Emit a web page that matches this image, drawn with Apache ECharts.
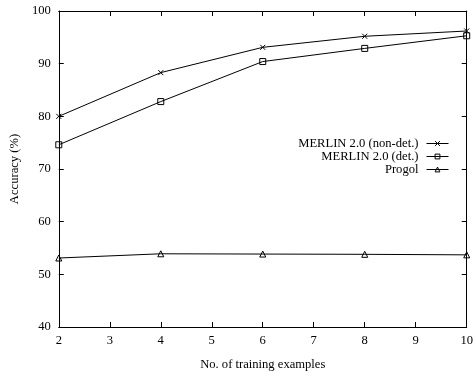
<!DOCTYPE html>
<html><head><meta charset="utf-8">
<script src="https://cdn.jsdelivr.net/npm/echarts@6/dist/echarts.min.js"></script>
<style>html,body{margin:0;padding:0;background:#fff}#c{width:476px;height:376px}</style>
</head><body><div id="c"></div>
<script>
const xValues = [2, 4, 6, 8, 10];
const nonDet = [80.0, 88.3, 93.1, 95.2, 96.2];
const det = [74.6, 82.8, 90.4, 92.9, 95.3];
const progol = [53.1, 53.9, 53.85, 53.8, 53.7];
const seriesNames = ['MERLIN 2.0 (non-det.)', 'MERLIN 2.0 (det.)', 'Progol'];

const font = 'Liberation Serif';
const fs = 12.6;
const pair = arr => xValues.map((x, i) => [x, arr[i]]);
const crossPath = 'path://M0,0L10,10M10,0L0,10';
function mk(name, data, symbol, size) {
  return {
    name, type: 'line', data: pair(data), symbol, symbolSize: size,
    showAllSymbol: true,
    lineStyle: { color: '#000', width: 1 },
    itemStyle: { color: 'rgba(0,0,0,0)', borderColor: '#000', borderWidth: 1 },
    emphasis: { disabled: true }, animation: false
  };
}
const chart = echarts.init(document.getElementById('c'), null, { renderer: 'canvas' });
const tickStyle = { inside: true, length: 5, lineStyle: { color: '#000', width: 1 } };
const lineStyle = { show: true, lineStyle: { color: '#000', width: 1 } };
chart.setOption({
  animation: false,
  textStyle: { fontFamily: font },
  grid: { left: 58, right: 7, top: 11, bottom: 48, show: false },
  legend: {
    orient: 'vertical', right: 22, top: 132, align: 'right',
    itemWidth: 22, itemHeight: 6, itemGap: 0,
    itemStyle: { color: 'rgba(0,0,0,0)', borderColor: '#000', borderWidth: 1 },
    lineStyle: { color: '#000', width: 1 },
    textStyle: { fontFamily: font, fontSize: fs, color: '#000', lineHeight: 13, padding: [0, 3, 0, 0] },
    data: seriesNames
  },
  xAxis: [{
    type: 'value', min: 2, max: 10, interval: 1,
    name: 'No. of training examples', nameLocation: 'middle', nameGap: 31,
    nameTextStyle: { fontFamily: font, fontSize: fs, color: '#000' },
    axisLine: lineStyle, axisTick: tickStyle, splitLine: { show: false },
    axisLabel: { fontFamily: font, fontSize: fs, color: '#000', margin: 7 }
  }, {
    type: 'value', min: 2, max: 10, interval: 1, position: 'top',
    axisLine: lineStyle, axisTick: tickStyle, splitLine: { show: false },
    axisLabel: { show: false }
  }],
  yAxis: [{
    type: 'value', min: 40, max: 100, interval: 10,
    name: 'Accuracy (%)', nameLocation: 'middle', nameGap: 30,
    nameTextStyle: { fontFamily: font, fontSize: fs, color: '#000' },
    axisLine: lineStyle, axisTick: tickStyle, splitLine: { show: false },
    axisLabel: { fontFamily: font, fontSize: fs, color: '#000', margin: 8 }
  }, {
    type: 'value', min: 40, max: 100, interval: 10, position: 'right',
    axisLine: lineStyle, axisTick: tickStyle, splitLine: { show: false },
    axisLabel: { show: false }
  }],
  series: [
    mk(seriesNames[0], nonDet, crossPath, 5),
    mk(seriesNames[1], det, 'rect', 6),
    mk(seriesNames[2], progol, 'triangle', 6)
  ]
});
</script></body></html>
